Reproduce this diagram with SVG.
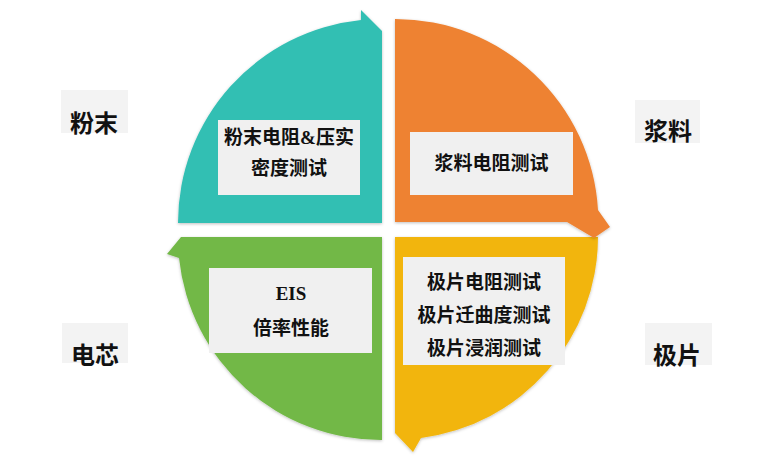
<svg xmlns="http://www.w3.org/2000/svg" width="780" height="464" viewBox="0 0 780 464">
<style>
.box{fill:#F0F0F0}
.lblbg{fill:#F3F3F3}
.bt{font-family:"Liberation Serif","Noto Sans CJK SC",serif;font-weight:bold;font-size:19px;fill:#111;text-anchor:middle}
.lt{font-family:"Liberation Sans","Noto Sans CJK SC",sans-serif;font-weight:bold;font-size:24px;fill:#111;text-anchor:middle}
</style>
<defs>
<filter id="sh" x="-10%" y="-10%" width="120%" height="120%">
<feDropShadow dx="0" dy="1" stdDeviation="1.5" flood-color="#000" flood-opacity="0.25"/>
</filter>
</defs>
<rect width="780" height="464" fill="#FFFFFF"/>

<g id="q-powder">
<path d="M178,223 A204,204 0 0 1 361,20 L361,10 L382,31 L382,223 Z" fill="#33BFB3" filter="url(#sh)"/>
<rect class="box" x="218" y="120" width="142" height="75"/>
<text class="bt" x="289" y="144">粉末电阻&amp;压实</text>
<text class="bt" x="289" y="175">密度测试</text>
</g>

<g id="q-cell">
<path d="M382,237 L382,440 A203,203 0 0 1 179,258 L167,254 L181,237 Z" fill="#72B847" filter="url(#sh)"/>
<rect class="box" x="209" y="268" width="163" height="85"/>
<text class="bt" x="291" y="300">EIS</text>
<text class="bt" x="291" y="335">倍率性能</text>
</g>

<g id="q-electrode">
<path d="M395,237 L598,237 A203,203 0 0 1 421,438 L413,452 L395,433 Z" fill="#F2B50C" filter="url(#sh)"/>
<rect class="box" x="403" y="257" width="162" height="108"/>
<text class="bt" x="484" y="289">极片电阻测试</text>
<text class="bt" x="484" y="322">极片迁曲度测试</text>
<text class="bt" x="484" y="355">极片浸润测试</text>
</g>

<g id="q-slurry">
<path d="M395,19 A203,203 0 0 1 598,210 L610,227 L594,238 L567,222 L395,222 Z" fill="#EE8232" filter="url(#sh)"/>
<rect class="box" x="410" y="132" width="163" height="63"/>
<text class="bt" x="491.5" y="170">浆料电阻测试</text>
</g>

<g id="connectors"></g>

<g id="label-powder">
<rect class="lblbg" x="61" y="90" width="67" height="43"/>
<text class="lt" x="94" y="132">粉末</text>
</g>
<g id="label-slurry">
<rect class="lblbg" x="635" y="100" width="65" height="43"/>
<text class="lt" x="668" y="140">浆料</text>
</g>
<g id="label-cell">
<rect class="lblbg" x="62" y="323" width="66" height="40"/>
<text class="lt" x="95" y="364">电芯</text>
</g>
<g id="label-electrode">
<rect class="lblbg" x="645" y="323" width="67" height="42"/>
<text class="lt" x="677" y="364">极片</text>
</g>
</svg>
